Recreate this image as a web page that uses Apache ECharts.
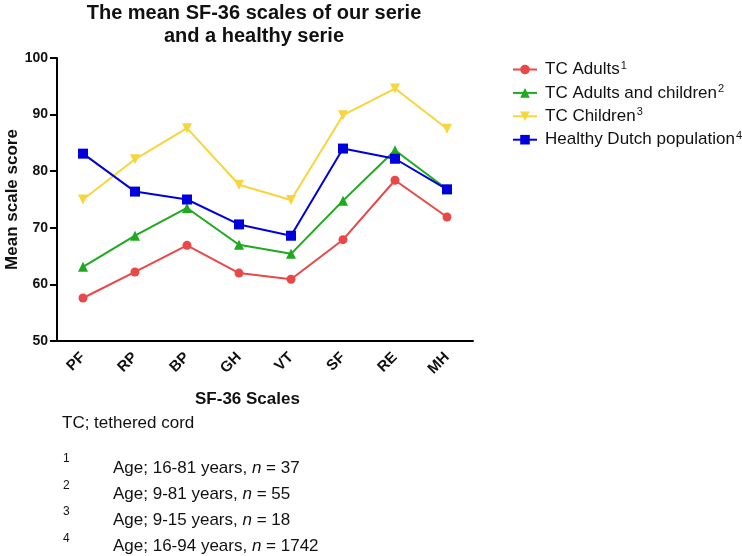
<!DOCTYPE html>
<html>
<head>
<meta charset="utf-8">
<script src="https://cdn.jsdelivr.net/npm/echarts@6/dist/echarts.min.js"></script>
<style>html,body{margin:0;padding:0;background:#fff}#c{width:742px;height:556px}</style>
</head>
<body>
<div id="c"></div>
<script>
var categories = ['PF','RP','BP','GH','VT','SF','RE','MH'];
var yTicks = [50, 60, 70, 80, 90, 100];
var seriesNames = ['TC Adults','TC Adults and children','TC Children','Healthy Dutch population'];
var seriesSup = ['1','2','3','4'];
var tcAdults = [57.6, 62.2, 66.9, 62.0, 60.9, 67.9, 78.4, 71.9];
var tcAdultsChildren = [63.1, 68.6, 73.5, 67.0, 65.4, 74.8, 83.7, 76.8];
var tcChildren = [75.0, 82.1, 87.6, 77.6, 74.9, 89.9, 94.6, 87.5];
var healthyDutch = [83.1, 76.4, 75.0, 70.6, 68.6, 84.0, 82.2, 76.8];
var footnoteTitle = 'TC; tethered cord';
var footnoteAges = ['16-81', '9-81', '9-15', '16-94'];
var footnoteN = ['37', '55', '18', '1742'];

var FONT = '"Liberation Sans", Arial, sans-serif';
var colors = ['#E94848', '#1DAA1D', '#F7D53C', '#0000DD'];
var symbols = ['circle', 'triangle', 'triangle', 'rect'];
var symbolSizes = [9, 10, 10, 10];
var symbolRot = [0, 0, 180, 0];
var dataSets = [tcAdults, tcAdultsChildren, tcChildren, healthyDutch];

var series = dataSets.map(function (d, i) {
  return {
    name: seriesNames[i],
    type: 'line',
    data: d,
    symbol: symbols[i],
    symbolSize: symbolSizes[i],
    symbolRotate: symbolRot[i],
    showAllSymbol: true,
    itemStyle: { color: colors[i] },
    lineStyle: { color: colors[i], width: 2 },
    animation: false,
    z: 2 + i
  };
});

var graphics = [];
graphics.push({
  type: 'text', left: 62, top: 415,
  style: { text: footnoteTitle, font: '17px ' + FONT, fill: '#111' }
});
var rowY = [460, 486, 512, 538];
var supY = [453, 480, 506, 533];
footnoteAges.forEach(function (a, i) {
  graphics.push({
    type: 'text', left: 63, top: supY[i],
    style: { text: seriesSup[i], font: '12px ' + FONT, fill: '#111' }
  });
  graphics.push({
    type: 'text', left: 113, top: rowY[i],
    style: {
      text: '{r|Age; ' + a + ' years, }{i|n}{r| = ' + footnoteN[i] + '}',
      rich: {
        r: { font: '17px ' + FONT, fill: '#111' },
        i: { font: 'italic 17px ' + FONT, fill: '#111' }
      }
    }
  });
});
graphics.push({
  type: 'text', left: 195, top: 391,
  style: { text: 'SF-36 Scales', font: 'bold 17px ' + FONT, fill: '#111' }
});

var chart = echarts.init(document.getElementById('c'), null, { renderer: 'canvas' });
chart.setOption({
  animation: false,
  backgroundColor: '#fff',
  title: {
    text: 'The mean SF-36 scales of our serie\nand a healthy serie',
    left: 249, top: -3, textAlign: 'center',
    textStyle: { fontFamily: FONT, fontSize: 20, fontWeight: 'bold', color: '#111', lineHeight: 23 }
  },
  grid: { left: 57, right: 269, top: 58, bottom: 215, containLabel: false, outerBoundsMode: 'none' },
  legend: {
    orient: 'vertical', left: 507, top: 55,
    itemWidth: 24, itemHeight: 12, itemGap: 5.4,
    data: seriesNames,
    formatter: function (name) {
      var idx = seriesNames.indexOf(name);
      return '{n|' + name + '}{s|' + seriesSup[idx] + '}';
    },
    textStyle: {
      fontFamily: FONT, color: '#111',
      rich: {
        n: { fontFamily: FONT, fontSize: 17, color: '#111', padding: [0, 0, 0, 3] },
        s: { fontFamily: FONT, fontSize: 11, color: '#111', verticalAlign: 'top', padding: [0, 0, 8, 1] }
      }
    }
  },
  xAxis: {
    type: 'category', data: categories, boundaryGap: true,
    axisLine: { lineStyle: { color: '#000', width: 2 } },
    axisTick: { alignWithLabel: true, length: 6, lineStyle: { color: '#000', width: 2 } },
    axisLabel: { rotate: 45, margin: 14, fontFamily: FONT, fontSize: 15, fontWeight: 'bold', color: '#111' }
  },
  yAxis: {
    type: 'value', min: yTicks[0], max: yTicks[yTicks.length - 1], interval: 10,
    name: 'Mean scale score', nameLocation: 'middle', nameGap: 36, nameRotate: 90,
    nameMoveOverlap: false,
    nameTextStyle: { fontFamily: FONT, fontSize: 17, fontWeight: 'bold', color: '#111' },
    axisLine: { show: true, lineStyle: { color: '#000', width: 2 } },
    axisTick: { show: true, length: 7, lineStyle: { color: '#000', width: 2 } },
    axisLabel: { margin: 9, fontFamily: FONT, fontSize: 14, fontWeight: 'bold', color: '#111' },
    splitLine: { show: false }
  },
  graphic: graphics,
  series: series
});
</script>
</body>
</html>
